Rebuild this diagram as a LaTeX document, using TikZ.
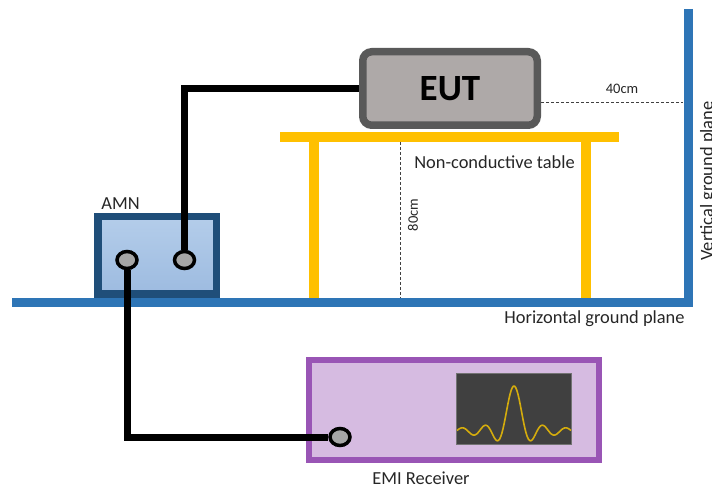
\documentclass[tikz,border=0pt]{standalone}
\usepackage{fontspec}
\setmainfont{Carlito}
\usetikzlibrary{shapes.geometric}
\definecolor{planeblue}{HTML}{2E75B6}
\definecolor{tableyellow}{HTML}{FFC000}
\definecolor{amnblue}{HTML}{1F4E79}
\definecolor{amntop}{HTML}{B4CDEA}
\definecolor{amnbottom}{HTML}{9DBBE0}
\definecolor{eutgrey}{HTML}{AEA9A8}
\definecolor{eutborder}{HTML}{595959}
\definecolor{receiverpurple}{HTML}{9955B5}
\definecolor{tracegold}{HTML}{D4AC0D}
\tikzset{
    lbl/.style={inner sep=0pt, font=\fontsize{18.4}{20}\selectfont, text=black!85},
    smalllbl/.style={inner sep=0pt, font=\fontsize{14.5}{16}\selectfont, text=black!85},
    plane/.style={draw=planeblue, line width=9pt},
    tableline/.style={draw=tableyellow, line width=10pt},
    cable/.style={draw=black, line width=7pt},
    dimline/.style={densely dashed, line width=0.7pt, draw=black!75},
    port/.style={ellipse, draw=black, fill=black!35, line width=3.5pt, minimum width=20pt, minimum height=17pt, inner sep=0pt}
}
\begin{document}
\begin{tikzpicture}[x=1pt,y=-1pt]
        \useasboundingbox (0,0) rectangle (712,486);

        % Ground planes and table
        \draw[plane] (12,302.5) -- (688,302.5);
        \draw[plane] (688,9) -- (688,307);
        \draw[tableline] (313.5,137) -- (313.5,298);
        \draw[tableline] (586,137) -- (586,298);
        \draw[tableline] (280,137) -- (619,137);

        % Nodes
        \node (EUT) at (450,88.5) [draw=eutborder, fill=eutgrey, line width=7.5pt, rounded corners=9pt, minimum width=174.5pt, minimum height=73.5pt, inner sep=0pt, font=\bfseries\fontsize{37}{40}\selectfont] {EUT};
        \node (AMNbox) at (157,255.5) [draw=amnblue, top color=amntop, bottom color=amnbottom, line width=7.5pt, minimum width=118.5pt, minimum height=77.5pt, inner sep=0pt] {};
        \node (receiver) at (454,410) [draw=receiverpurple, fill=receiverpurple!40!white, line width=6pt, minimum width=290pt, minimum height=100pt, inner sep=0pt] {};
        \node (screen) at (514,409) [draw=black!55, fill=black!75, line width=1pt, minimum width=115pt, minimum height=71pt, inner sep=0pt] {};
        \node (portleft) at (127,260) [port] {};
        \node (portright) at (184.5,260) [port] {};
        \node (portreceiver) at (340,437) [port] {};

        % Labels
        \node (AMN) at (120.5,204) [lbl] {AMN};
        \node (tablelabel) at (494.5,162) [lbl] {Non-conductive table};
        \node (hlabel) at (594.5,319) [lbl] {Horizontal ground plane};
        \node (vlabel) at (708,181) [lbl, rotate=90] {Vertical ground plane};
        \node (receiverlabel) at (421,478.5) [lbl] {EMI Receiver};
        \node (dist80) at (413,215) [smalllbl, rotate=90] {80cm};
        \node (dist40) at (622,89) [smalllbl] {40cm};

        % Edges
        \draw[cable] (EUT.west) -| (portright.north);
        \draw[cable] (portleft.south) |- (portreceiver.west);

        % Dimensions
        \coordinate (tabletop) at (400,142);
        \coordinate (tablefloor) at (400,298);
        \coordinate (wall) at (683,102);
        \coordinate (euteast) at (541,102);
        \draw[dimline] (tabletop) -- (tablefloor);
        \draw[dimline] (euteast) -- (wall);

        % Spectrum
        \draw[draw=tracegold, line width=1.6pt] plot[domain=-57:57, samples=100] ({514+\x},{431-45*sin(15.6*\x)/(0.272*\x)});
    \end{tikzpicture}
\end{document}
